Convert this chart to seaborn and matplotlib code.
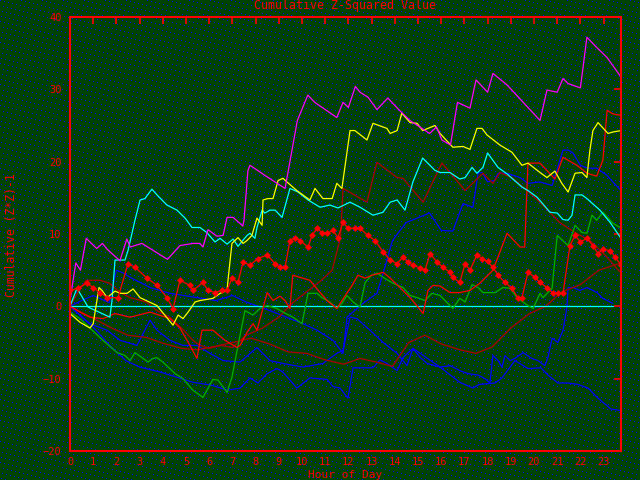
import matplotlib
matplotlib.use("Agg")
import matplotlib.pyplot as plt
import numpy as np
import seaborn as sns

# colours
bg_green = (0, 68, 0)
dot_blue = (0, 0, 255)
axis_red = "#ff0000"

# hour of day and cumulative value for each series
magenta_hours = [0, 0.25, 0.45, 0.7, 1.15, 1.4, 1.6, 2.15, 2.45, 2.6, 3.1, 3.6, 4.2, 4.74, 5.3, 5.6, 5.73, 5.95,
                 6.33, 6.6, 6.77, 7.03, 7.45, 7.5, 7.67, 7.76, 8.4, 9.27, 9.8, 10.25, 10.55, 11.5, 11.77, 12.0, 12.3,
                 12.5, 12.85, 13.23, 13.7, 14.2, 14.65, 15.5, 15.8, 16.03, 16.4, 16.7, 17.24, 17.5, 18.0, 18.23, 18.84,
                 20.26, 20.56, 21.0, 21.25, 21.47, 22.0, 22.28, 22.7, 23.15, 23.75]
magenta_vals = [0.8, 6.0, 5.0, 9.4, 8.0, 8.7, 7.9, 6.3, 9.3, 8.2, 8.7, 7.7, 6.5, 8.4, 8.7, 8.7, 8.2, 10.6,
                9.7, 9.8, 12.3, 12.3, 11.1, 11.9, 18.8, 19.5, 18.1, 16.3, 25.7, 29.2, 28.2, 26.1, 28.2, 27.5, 30.4,
                29.6, 28.9, 27.2, 28.8, 27.1, 25.7, 23.9, 24.8, 23.0, 22.3, 28.2, 27.4, 31.3, 29.6, 32.2, 30.6,
                25.7, 29.9, 29.6, 31.5, 30.8, 30.2, 37.2, 35.8, 34.4, 31.7]

yellow_hours = [0, 0.43, 0.86, 1.0, 1.25, 1.38, 1.6, 1.94, 2.16, 2.46, 2.72, 3.02, 3.75, 4.44, 4.66, 4.87, 5.09,
                5.39, 5.6, 6.16, 6.47, 6.77, 6.81, 6.98, 7.24, 7.46, 7.63, 7.84, 8.06, 8.28, 8.32, 8.53, 8.75, 8.97,
                9.18, 9.35, 9.78, 10.34, 10.56, 10.9, 11.3, 11.5, 11.72, 12.07, 12.28, 12.8, 13.06, 13.66, 13.8, 14.1,
                14.3, 14.66, 14.96, 15.2, 15.73, 15.95, 16.5, 16.94, 17.24, 17.54, 17.76, 17.97, 18.53, 19.05, 19.48,
                19.74, 20.26, 20.56, 20.9, 21.2, 21.47, 21.77, 22.07, 22.28, 22.41, 22.54, 22.76, 23.19, 23.4, 23.75]
yellow_vals = [-1.0, -2.2, -3.0, -2.4, 2.6, 2.2, 1.2, 2.1, 1.8, 1.8, 2.4, 1.2, 0.1, -2.6, -1.2, -1.7, -0.8,
               0.6, 0.8, 1.1, 1.8, 2.2, 3.6, 8.7, 9.5, 8.7, 9.1, 9.8, 12.2, 11.2, 14.7, 14.9, 14.9, 17.4,
               17.7, 17.2, 16.0, 14.7, 16.3, 14.9, 14.9, 17.0, 16.3, 24.3, 24.3, 23.0, 25.3, 24.6, 23.9, 24.3,
               26.7, 25.4, 25.3, 24.3, 25.0, 23.9, 22.0, 22.1, 21.7, 24.6, 24.6, 23.7, 22.3, 21.3, 19.5,
               19.8, 18.5, 17.8, 18.7, 17.0, 15.8, 18.4, 18.5, 17.8, 21.6, 24.3, 25.4, 23.9, 24.1, 24.3]

cyan_hours = [0, 0.3, 0.78, 1.72, 1.81, 1.94, 2.37, 2.5, 2.8, 3.02, 3.23, 3.53, 3.75, 4.18, 4.61, 4.96, 5.26, 5.6,
              5.9, 6.25, 6.47, 6.77, 7.03, 7.24, 7.63, 7.76, 7.97, 8.06, 8.28, 8.4, 8.62, 8.84, 9.14, 9.48, 9.83,
              10.26, 10.78, 11.2, 11.55, 12.07, 12.5, 13.06, 13.49, 13.8, 14.1, 14.44, 14.78, 15.2, 15.73, 15.95,
              16.38, 16.8, 17.03, 17.33, 17.54, 17.8, 18.0, 18.45, 18.84, 19.48, 19.74, 20.13, 20.69, 21.0, 21.25,
              21.47, 21.64, 21.77, 22.07, 22.28, 22.84, 23.28, 23.75]
cyan_vals = [0.0, 2.5, -0.1, -1.5, 0.8, 6.4, 6.4, 7.7, 11.9, 14.7, 14.9, 16.2, 15.4, 14.0, 13.3, 12.2, 10.9, 10.9,
             10.2, 8.9, 9.4, 8.6, 9.3, 8.3, 9.8, 10.1, 9.4, 10.9, 13.3, 12.9, 13.3, 13.3, 12.3, 16.3, 15.8,
             14.7, 13.7, 14.0, 13.6, 14.4, 13.7, 12.6, 13.0, 14.4, 14.7, 13.3, 17.2, 20.5, 18.8, 18.5,
             18.5, 17.6, 17.8, 19.2, 18.4, 19.2, 21.2, 19.2, 18.3, 16.5, 16.0, 15.1, 13.0, 12.9, 12.0,
             11.9, 12.6, 15.4, 15.4, 14.9, 13.3, 11.6, 9.4]

diamond_hours = [0, 0.34, 0.73, 1.0, 1.3, 1.6, 2.07, 2.5, 2.8, 3.32, 3.75, 4.18, 4.44, 4.74, 5.17, 5.3, 5.73, 5.95,
                 6.25, 6.55, 6.77, 6.98, 7.24, 7.46, 7.76, 8.1, 8.5, 8.84, 9.05, 9.27, 9.48, 9.7, 9.91, 10.26, 10.43,
                 10.65, 10.86, 11.08, 11.34, 11.55, 11.77, 11.98, 12.28, 12.5, 12.84, 13.15, 13.5, 13.8, 14.1, 14.35,
                 14.57, 14.78, 15.1, 15.3, 15.52, 15.82, 16.08, 16.38, 16.5, 16.8, 17.03, 17.24, 17.54, 17.76, 18.0,
                 18.23, 18.45, 18.75, 19.05, 19.3, 19.48, 19.74, 20.04, 20.26, 20.56, 20.82, 21.03, 21.25, 21.55,
                 21.77, 22.0, 22.28, 22.54, 22.76, 22.97, 23.28, 23.5, 23.75]
diamond_vals = [2.2, 2.5, 3.2, 2.6, 1.9, 1.2, 1.2, 5.9, 5.4, 3.9, 2.9, 1.2, -0.3, 3.6, 2.9, 2.2, 3.3, 2.2,
                1.9, 2.2, 2.2, 3.9, 3.3, 6.1, 5.7, 6.6, 7.1, 5.9, 5.4, 5.4, 9.1, 9.5, 9.1, 8.2, 9.8,
                10.8, 10.2, 10.1, 10.5, 9.5, 11.6, 10.8, 10.8, 10.8, 9.8, 9.1, 7.5, 6.4, 5.9, 6.8,
                6.1, 5.7, 5.3, 5.0, 7.3, 6.1, 5.4, 4.7, 4.0, 3.3, 5.9, 5.0, 7.1, 6.6, 6.2,
                5.4, 4.3, 3.3, 2.5, 1.2, 1.2, 4.7, 4.0, 3.3, 2.6, 1.8, 1.9, 1.8, 8.4,
                9.8, 8.9, 9.4, 8.4, 7.3, 7.9, 7.7, 6.8, 5.7]

green_hours = [0, 0.43, 0.86, 1.42, 2.03, 2.37, 2.59, 2.8, 3.15, 3.36, 3.58, 3.75, 4.0, 4.53, 4.87, 5.3, 5.73, 6.16,
               6.38, 6.77, 6.98, 7.33, 7.54, 7.89, 8.19, 8.5, 8.92, 9.18, 9.61, 10.0, 10.26, 10.65, 10.86, 11.2, 11.5,
               11.72, 11.94, 12.2, 12.5, 12.72, 13.0, 13.23, 13.5, 13.92, 14.35, 14.66, 14.96, 15.3, 15.6, 15.95,
               16.5, 16.8, 17.03, 17.33, 17.59, 17.8, 18.32, 18.66, 18.97, 19.27, 19.74, 19.96, 20.26, 20.39, 20.78,
               21.0, 21.47, 21.77, 22.07, 22.28, 22.5, 22.7, 22.97, 23.4, 23.75]
green_vals = [-0.8, -1.7, -3.0, -4.7, -6.4, -6.8, -7.5, -6.4, -7.2, -7.7, -7.2, -7.1, -7.7, -9.3, -10.0, -11.6, -12.6,
              -10.1, -10.2, -11.9, -9.8, -4.0, -0.6, -1.2, -0.3, 0.1, -0.3, -0.8, -1.5, -2.4, 1.8, 1.8, 1.2, 0.6,
              -0.3, 0.4, 1.5, 0.6, -0.1, 3.3, 4.3, 4.6, 4.0, 3.2, 2.6, 1.5, 1.2, 0.8, 1.8, 1.5,
              -0.3, 1.1, 0.6, 3.0, 2.6, 1.9, 1.9, 2.6, 2.5, 1.2, 0.1, -0.3, 1.8, 1.2, 2.5,
              9.8, 8.4, 11.2, 10.2, 10.1, 12.6, 11.9, 13.0, 11.5, 10.8]

# bright red line that finishes near 26
red_hours = [0, 0.43, 0.86, 1.42, 1.94, 2.59, 3.45, 4.31, 4.74, 5.17, 5.47, 5.69, 6.16, 6.68, 7.2, 7.33, 7.63,
             7.89, 8.06, 8.5, 8.75, 9.05, 9.27, 9.48, 9.6, 10.34, 10.7, 11.08, 11.5, 11.64, 12.16, 12.41, 12.72,
             13.02, 13.5, 13.8, 14.22, 14.66, 15.0, 15.22, 15.43, 15.65, 15.95, 16.38, 16.8, 17.24, 17.67, 18.23,
             18.84, 19.4, 19.6, 19.74, 20.26, 20.9, 21.25, 21.85, 22.28, 22.7, 22.97, 23.15, 23.4, 23.75]
red_vals = [0.0, -0.8, -1.5, -1.7, -1.0, -1.5, -0.8, -1.7, -3.0, -5.4, -7.2, -3.3, -3.3, -4.7, -5.7, -5.4, -3.6,
            -2.4, -3.3, 1.9, 0.8, 1.4, 0.8, -0.3, 4.3, 3.6, 2.2, 0.8, -0.3, 0.4, 2.9, 4.3, 3.9,
            4.3, 4.7, 3.9, 2.6, 1.2, -0.1, -1.0, 2.2, 2.9, 2.8, 1.9, 1.9, 2.2, 3.2, 5.0,
            10.1, 8.2, 8.2, 19.8, 19.8, 17.6, 20.6, 19.5, 18.4, 18.0, 20.2, 27.1, 26.6, 26.4]

# darker red line with the hump near hour 13
maroon_hours = [0, 0.35, 0.7, 1.3, 1.7, 2.16, 2.6, 3.3, 3.75, 4.3, 4.9, 5.3, 5.6, 6.0, 6.5, 7.0, 7.6, 8.3, 9.0,
                9.6, 10.2, 10.8, 11.3, 11.66, 11.77, 12.8, 13.23, 14.1, 14.35, 15.22, 16.03, 16.38, 17.03, 17.8,
                18.23, 18.53, 19.05, 19.7, 20.26, 21.1, 21.77, 22.4, 23.06, 23.75]
maroon_vals = [0.0, 2.0, 3.6, 3.6, 3.2, 1.9, 1.2, 0.6, -0.6, -1.5, -3.3, -4.7, -5.4, -5.8, -5.4, -5.7, -4.0, -3.0,
               -1.5, 0.5, 2.0, 3.5, 5.0, 9.5, 16.3, 14.4, 19.9, 17.8, 17.7, 14.4, 19.8, 18.5, 16.0, 18.4,
               17.0, 18.5, 17.8, 16.0, 14.4, 11.6, 10.2, 9.1, 7.1, 4.6]

# second darker red line in the lower half
maroon2_hours = [0, 0.6, 1.2, 1.8, 2.5, 3.3, 4.0, 4.8, 5.5, 6.3, 7.0, 7.8, 8.6, 9.4, 10.2, 11.0, 11.8, 12.5, 13.2,
                 13.9, 14.6, 15.3, 16.0, 16.8, 17.5, 18.2, 19.0, 19.8, 20.5, 21.2, 22.0, 22.8, 23.75]
maroon2_vals = [0.0, -1.0, -2.0, -3.0, -4.0, -4.3, -5.1, -5.8, -6.0, -5.5, -5.0, -4.4, -5.2, -6.3, -6.5, -7.4, -8.0,
                -7.2, -7.7, -8.3, -5.0, -4.0, -5.2, -6.0, -6.5, -5.6, -3.0, -1.0, 0.0, 2.0, 3.0, 5.0, 6.0]

# blue lines
blue1_hours = [0, 0.5, 1.0, 1.7, 1.8, 2.0, 2.3, 2.6, 3.45, 4.31, 5.47, 6.3, 7.0, 7.6, 8.62, 10.04, 10.65, 11.34,
               11.77, 11.94, 12.63, 13.23, 13.5, 13.66, 13.9, 14.3, 14.5, 14.96, 15.5, 16.0, 16.5, 16.94, 17.37,
               17.59, 17.76, 18.0, 18.3, 18.45, 18.84, 19.4, 19.74, 20.26, 20.78, 21.25, 21.47, 21.68, 22.0, 22.33,
               22.7, 23.15, 23.4, 23.75]
blue1_vals = [0.0, 0.8, 1.5, 0.5, 2.2, 5.0, 4.6, 4.0, 2.6, 1.8, 1.2, 0.8, 1.5, 0.6, -0.6, -2.4, -3.3, -4.7,
              -6.5, -1.5, 0.4, 1.8, 4.6, 6.4, 9.1, 10.8, 11.6, 12.2, 12.9, 10.5, 10.4, 14.2, 13.7,
              18.4, 18.5, 17.2, 17.4, 18.4, 18.4, 17.8, 17.0, 17.2, 16.7, 21.6, 21.6, 21.2, 19.5, 19.1,
              19.1, 18.1, 17.2, 16.0]

blue2_hours = [0, 0.86, 1.6, 2.16, 2.89, 3.45, 3.75, 4.31, 4.87, 5.47, 6.03, 6.6, 7.33, 8.06, 8.62, 9.18, 10.04,
               10.9, 11.5, 11.77, 12.07, 12.37, 12.93, 13.5, 14.1, 14.53, 14.78, 15.1, 15.4, 15.95,
               16.38, 16.81, 17.16, 17.59, 17.89, 18.1, 18.23, 18.45, 18.62, 18.75, 18.97, 19.18, 19.53, 19.91,
               20.17, 20.47, 20.6, 20.78, 21.03, 21.25, 21.42, 21.47, 21.68, 21.98, 22.28, 22.72, 22.97, 23.4]
blue2_vals = [0.0, -2.4, -3.3, -4.7, -5.4, -1.9, -3.3, -4.7, -5.4, -5.4, -6.5, -7.5, -7.7, -5.7, -7.5, -7.9, -8.4,
              -7.9, -6.5, -6.1, -1.5, -1.7, -3.3, -5.0, -6.5, -8.2, -5.8, -7.1, -7.9, -8.4,
              -8.2, -8.9, -9.3, -9.5, -10.0, -10.6, -6.8, -7.5, -8.4, -6.8, -7.5, -7.2, -6.4, -7.2,
              -7.5, -8.2, -7.1, -4.4, -5.0, -3.3, -0.1, 2.6, 2.6, 2.2, 2.6, 1.9, 1.1, 0.4]

blue3_hours = [0, 1.0, 1.8, 2.4, 3.0, 3.9, 4.6, 5.3, 6.1, 6.8, 7.33, 7.76, 8.1, 8.5, 8.92, 9.18, 9.78, 10.34, 11.08,
               11.34, 11.64, 11.98, 12.2, 13.06, 13.36, 13.66, 14.1, 14.35, 14.78, 15.95, 16.8, 17.37, 17.63, 18.32,
               18.62, 19.18, 19.74, 20.3, 20.6, 21.03, 21.47, 21.9, 22.33, 22.76, 23.32, 23.75]
blue3_vals = [0.0, -2.9, -5.7, -7.5, -8.4, -9.1, -9.8, -10.5, -10.9, -11.6, -11.3, -9.9, -10.6, -9.3, -8.6, -9.1,
              -11.3, -9.9, -10.1, -11.1, -11.3, -12.7, -8.5, -8.5, -7.4, -7.9, -8.9, -7.1, -5.8, -8.4, -10.5,
              -11.3, -10.8, -10.6, -9.9, -7.5, -8.6, -8.5, -9.5, -10.6, -10.6, -10.8, -11.3, -12.7, -14.2, -14.4]

zero_hours = [0, 23.4]
zero_vals = [0, 0]

sns.set_theme(style="dark")
plt.rcParams['font.family'] = ['DejaVu Sans Mono']

fig = plt.figure(figsize=(6.4, 4.8), dpi=100)
fig.patch.set_facecolor(np.array(bg_green) / 255)

# speckled backdrop: single blue pixels on dark green, on a slightly tilted grid
rows, cols = np.mgrid[0:480, 0:640]
speckle = (cols - 4 * rows) % 21 == 0
backdrop = np.zeros((480, 640, 3), dtype=np.uint8)
backdrop[:] = bg_green
backdrop[speckle] = dot_blue
bg_ax = fig.add_axes([0, 0, 1, 1], zorder=-1)
bg_ax.imshow(backdrop, interpolation='nearest', aspect='auto')
bg_ax.axis('off')

ax = fig.add_axes([70 / 640, 1 - 451 / 480, 551 / 640, 434 / 480])
ax.set_facecolor('none')

line_kw = dict(ax=ax, linewidth=0.9, sort=False, estimator=None)
sns.lineplot(x=blue3_hours, y=blue3_vals, color="#0000ff", **line_kw)
sns.lineplot(x=blue2_hours, y=blue2_vals, color="#0000ff", **line_kw)
sns.lineplot(x=blue1_hours, y=blue1_vals, color="#0000ff", **line_kw)
sns.lineplot(x=maroon2_hours, y=maroon2_vals, color="#b00000", **line_kw)
sns.lineplot(x=maroon_hours, y=maroon_vals, color="#b00000", **line_kw)
sns.lineplot(x=zero_hours, y=zero_vals, color="#00ffff", **line_kw)
sns.lineplot(x=green_hours, y=green_vals, color="#00b000", **line_kw)
sns.lineplot(x=red_hours, y=red_vals, color=axis_red, **line_kw)
sns.lineplot(x=cyan_hours, y=cyan_vals, color="#00ffff", **line_kw)
sns.lineplot(x=yellow_hours, y=yellow_vals, color="#ffff00", **line_kw)
sns.lineplot(x=magenta_hours, y=magenta_vals, color="#ff00ff", **line_kw)
sns.lineplot(x=diamond_hours, y=diamond_vals, color=axis_red, marker='D', markersize=3.5,
             markeredgewidth=0, **line_kw)

ax.set_xlim(0, 23.75)
ax.set_ylim(-20, 40)
ax.set_xticks(range(0, 24))
ax.set_yticks(range(-20, 41, 10))
ax.set_xlabel("")
ax.set_ylabel("")
for side in ax.spines.values():
    side.set_color(axis_red)
    side.set_linewidth(1.5)
ax.tick_params(direction='in', colors=axis_red, labelcolor=axis_red, length=5, width=1.2,
               top=True, right=True, labelsize=7.5)
ax.tick_params(axis='x', pad=4)
ax.tick_params(axis='y', pad=6)
ax.grid(False)

fig.text(345 / 640, 1 - 6 / 480, "Cumulative Z-Squared Value", color=axis_red, fontsize=8.4,
         ha='center', va='center')
fig.text(345 / 640, 1 - 475 / 480, "Hour of Day", color=axis_red, fontsize=8, ha='center', va='center')
fig.text(12 / 640, 1 - 235 / 480, "Cumulative (Z*Z)-1", color=axis_red, fontsize=8.3, rotation=90,
         ha='center', va='center')

fig.savefig("out.png", dpi=100, facecolor=fig.get_facecolor())
